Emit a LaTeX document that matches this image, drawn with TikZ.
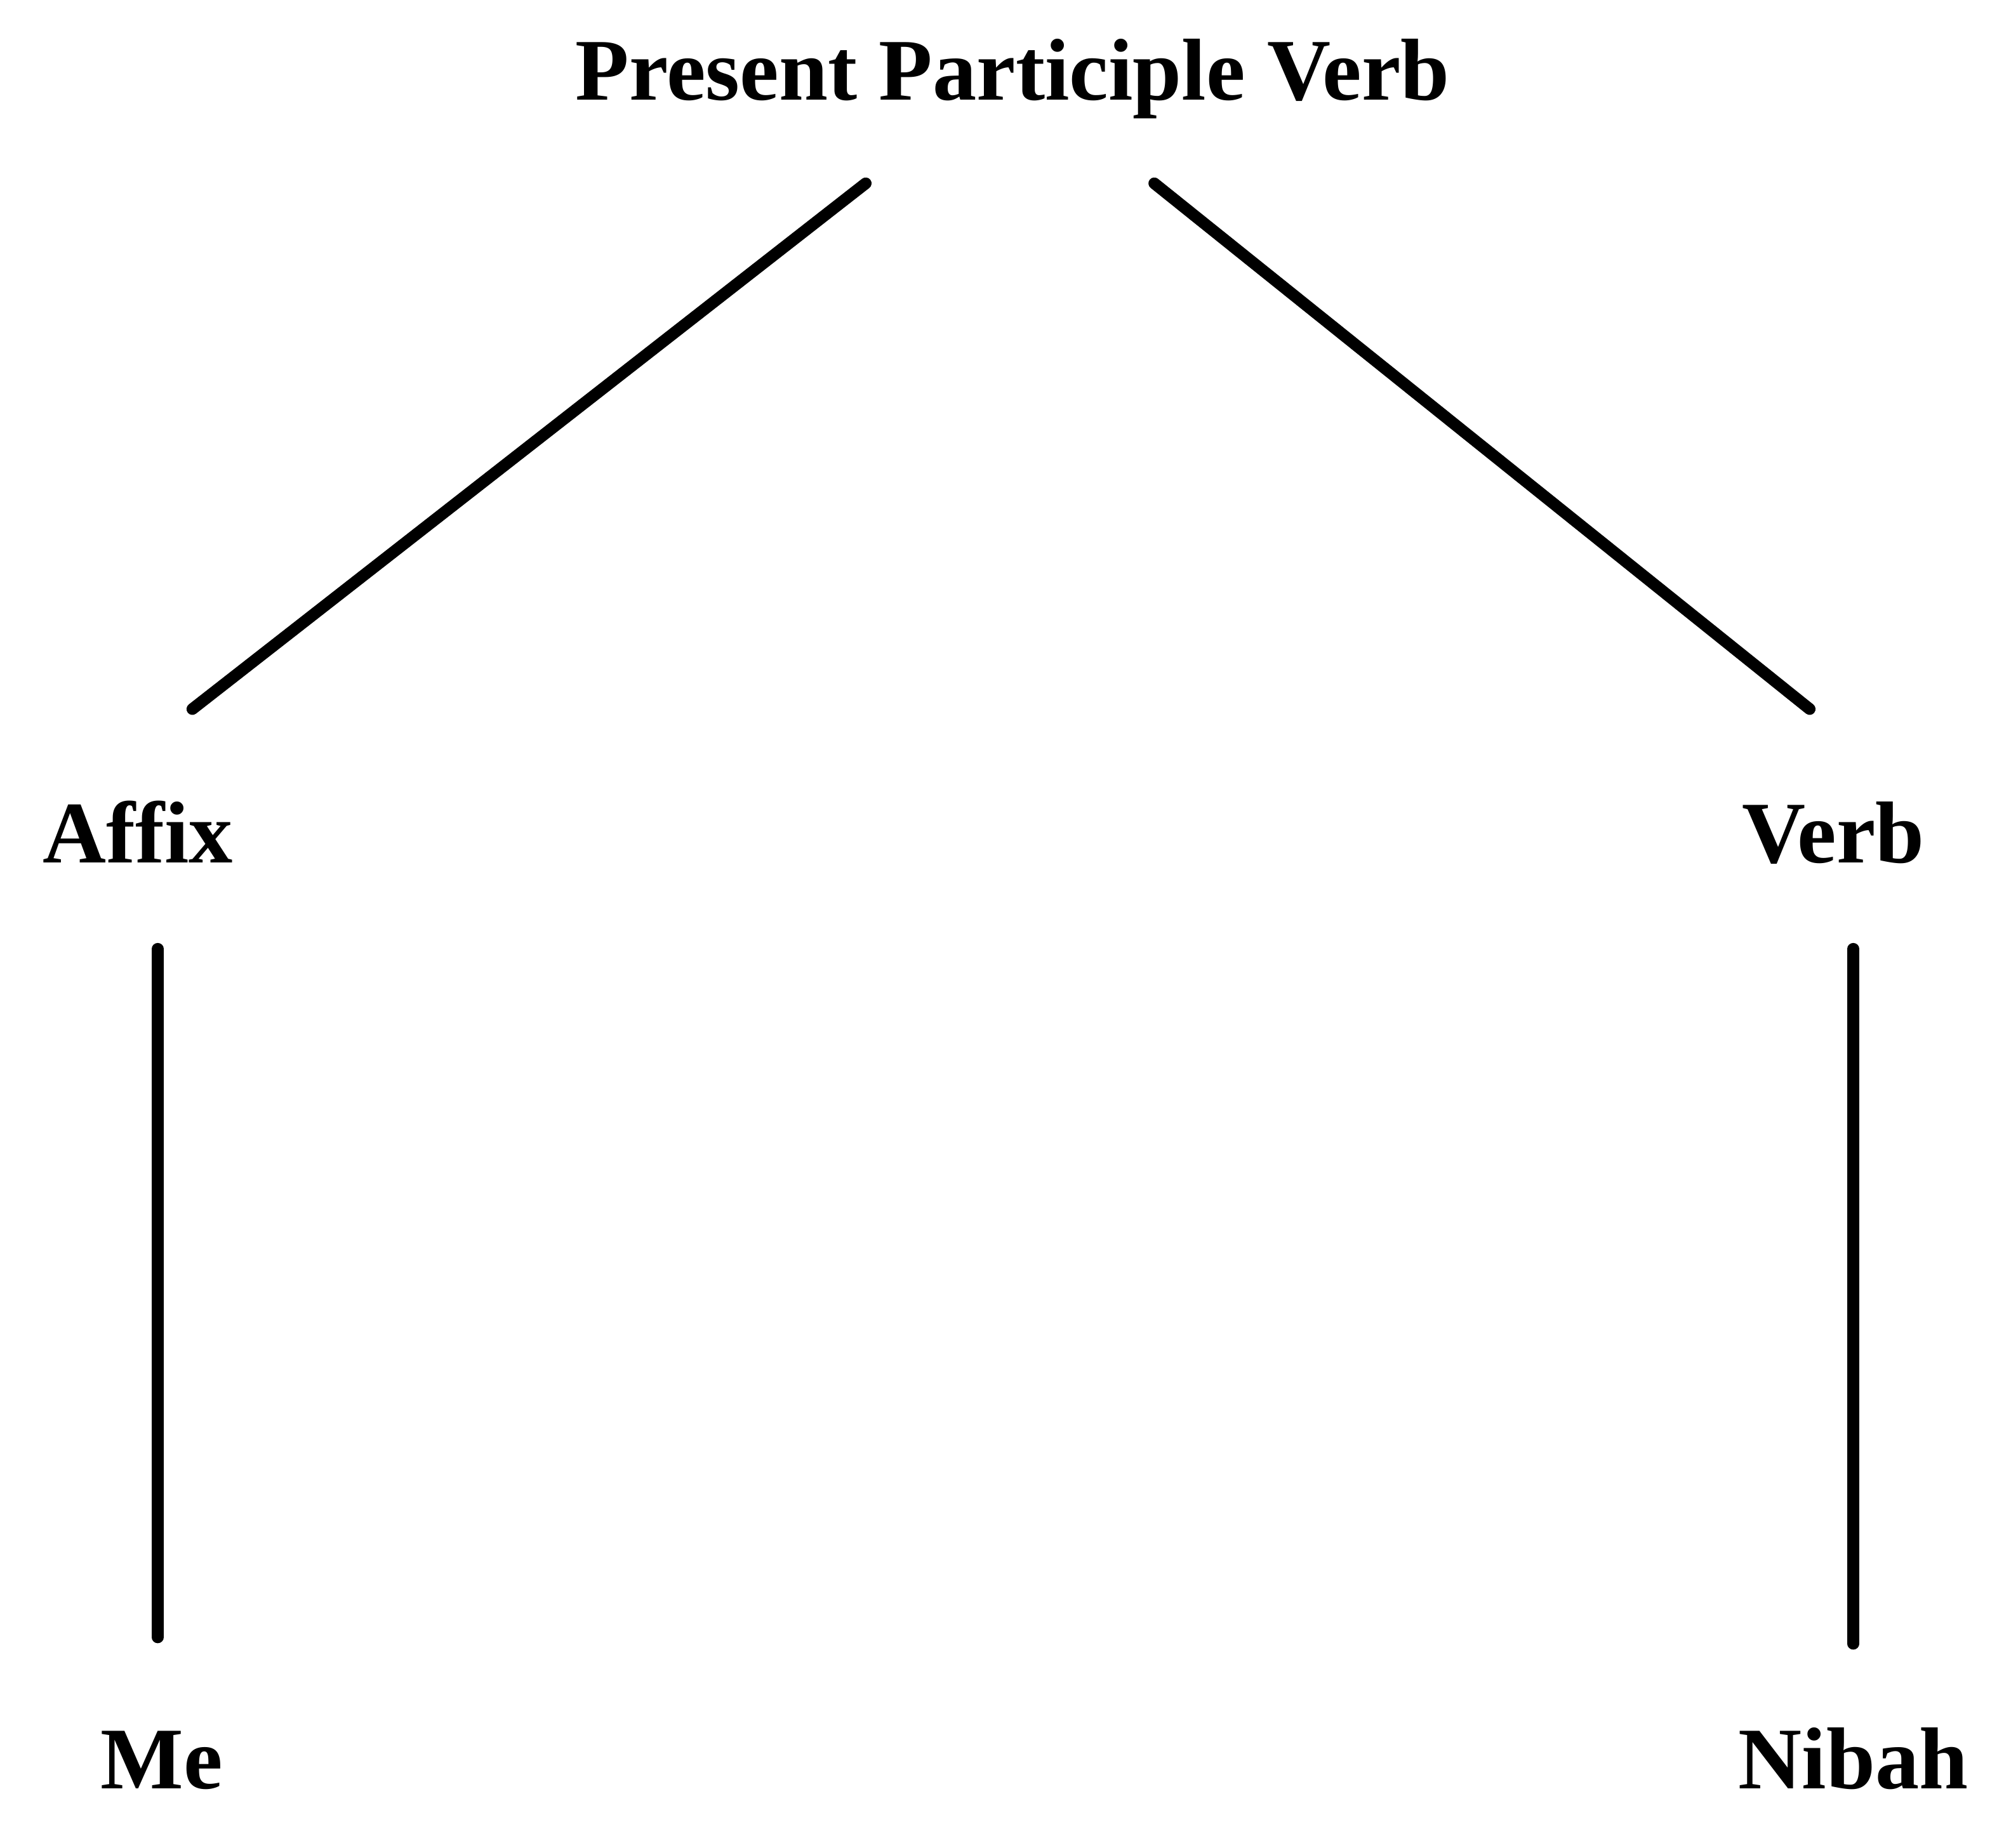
\documentclass[tikz,border=0pt]{standalone}
\usepackage{fontspec}
\setmainfont{Liberation Serif}
\usepackage{tikz}
\usetikzlibrary{positioning, calc}
\tikzset{
  word/.style={inner sep=0pt, anchor=base, font=\fontsize{19.5}{23}\selectfont\bfseries},
  branch/.style={line width=2.6pt, line cap=round, color=black},
}
\begin{document}
\begin{tikzpicture}
  \useasboundingbox (0,0) rectangle (15.68,-14.41);
  % labels
  \node[word] (ppv) at (7.895,-0.78) {Present Participle Verb};
  \node[word] (affix) at (1.075,-6.73) {Affix};
  \node[word] (verb) at (14.295,-6.73) {Verb};
  \node[word] (me) at (1.26,-13.95) {Me};
  \node[word] (nibah) at (14.45,-13.95) {Nibah};
  % branch ends
  \coordinate (ppv-l) at (6.75,-1.43);
  \coordinate (ppv-r) at (9.00,-1.43);
  \coordinate (affix-t) at (1.50,-5.53);
  \coordinate (verb-t) at (14.11,-5.53);
  \coordinate (affix-b) at (1.23,-7.40);
  \coordinate (me-t) at (1.23,-12.77);
  \coordinate (verb-b) at (14.45,-7.40);
  \coordinate (nibah-t) at (14.45,-12.82);
  % branches
  \draw[branch] (ppv-l) -- (affix-t);
  \draw[branch] (ppv-r) -- (verb-t);
  \draw[branch] (affix-b) -- (me-t);
  \draw[branch] (verb-b) -- (nibah-t);
\end{tikzpicture}
\end{document}
